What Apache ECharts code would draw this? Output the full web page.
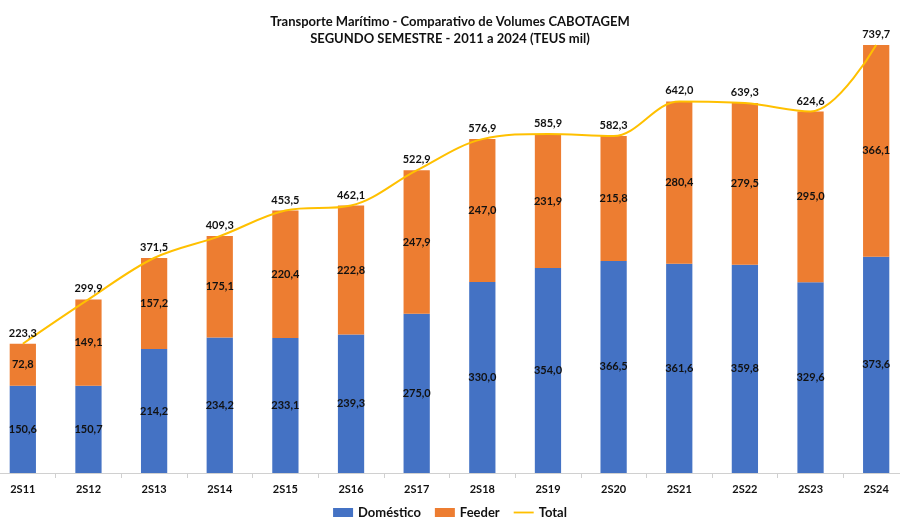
<!DOCTYPE html>
<html><head><meta charset="utf-8">
<script src="https://cdn.jsdelivr.net/npm/echarts@6/dist/echarts.min.js"></script>
<style>html,body{margin:0;padding:0;background:#fff;overflow:hidden;width:900px;height:530px}#c{width:920px;height:530px;margin-left:-10px}</style>
</head><body><div id="c"></div>
<script>
const categories = ['2S11','2S12','2S13','2S14','2S15','2S16','2S17','2S18','2S19','2S20','2S21','2S22','2S23','2S24'];
const domestico = [150.6,150.7,214.2,234.2,233.1,239.3,275.0,330.0,354.0,366.5,361.6,359.8,329.6,373.6];
const feeder = [72.8,149.1,157.2,175.1,220.4,222.8,247.9,247.0,231.9,215.8,280.4,279.5,295.0,366.1];
const total = [223.3,299.9,371.5,409.3,453.5,462.1,522.9,576.9,585.9,582.3,642.0,639.3,624.6,739.7];

const fmt = v => v.toFixed(1).replace('.', ',');
const FONT = 'Lato';
const chart = echarts.init(document.getElementById('c'));
chart.setOption({
  animation: false,
  textStyle: {fontFamily: FONT},
  title: {
    text: 'Transporte Marítimo - Comparativo de Volumes CABOTAGEM\nSEGUNDO SEMESTRE - 2011 a 2024 (TEUS mil)',
    left: 'center', top: 8,
    textStyle: {fontSize: 13, fontWeight: 'bold', color: '#111', lineHeight: 17, fontFamily: FONT}
  },
  legend: {
    bottom: 6, left: 'center', itemGap: 14, itemWidth: 20, itemHeight: 9,
    textStyle: {fontSize: 13, fontWeight: 'bold', color: '#111', fontFamily: FONT},
    data: [
      {name: 'Doméstico', icon: 'rect'},
      {name: 'Feeder', icon: 'rect'},
      {name: 'Total', icon: 'path://M0,4 L22,4 L22,6 L0,6 Z'}
    ]
  },
  grid: {left: 0, right: 1, top: 10, bottom: 57, containLabel: false},
  xAxis: {
    type: 'category', data: categories,
    axisLine: {lineStyle: {color: '#d0d0d0'}},
    axisTick: {show: true, length: 5, lineStyle: {color: '#d0d0d0'}},
    axisLabel: {fontSize: 11, fontWeight: 'bold', color: '#111', margin: 11, fontFamily: FONT}
  },
  yAxis: {type: 'value', min: 0, max: 800, show: false, splitLine: {show: false}},
  series: [
    {
      name: 'Doméstico', type: 'bar', stack: 's', data: domestico, barWidth: '40%',
      itemStyle: {color: '#4472C4'},
      label: {show: true, position: 'inside', formatter: p => fmt(p.value), fontSize: 11, fontWeight: 'bold', color: '#111', fontFamily: FONT}
    },
    {
      name: 'Feeder', type: 'bar', stack: 's', data: feeder, barWidth: '40%',
      itemStyle: {color: '#ED7D31'},
      label: {show: true, position: 'inside', formatter: p => fmt(p.value), fontSize: 11, fontWeight: 'bold', color: '#111', fontFamily: FONT}
    },
    {
      name: 'Total', type: 'line', data: total, smooth: 0.35, symbol: 'circle', symbolSize: 0, showSymbol: true, z: 5,
      lineStyle: {color: '#FFC000', width: 2},
      itemStyle: {color: '#FFC000'},
      label: {show: true, position: 'top', distance: 5, formatter: p => fmt(p.value), fontSize: 11, fontWeight: 'bold', color: '#111', fontFamily: FONT}
    }
  ]
});
</script></body></html>
